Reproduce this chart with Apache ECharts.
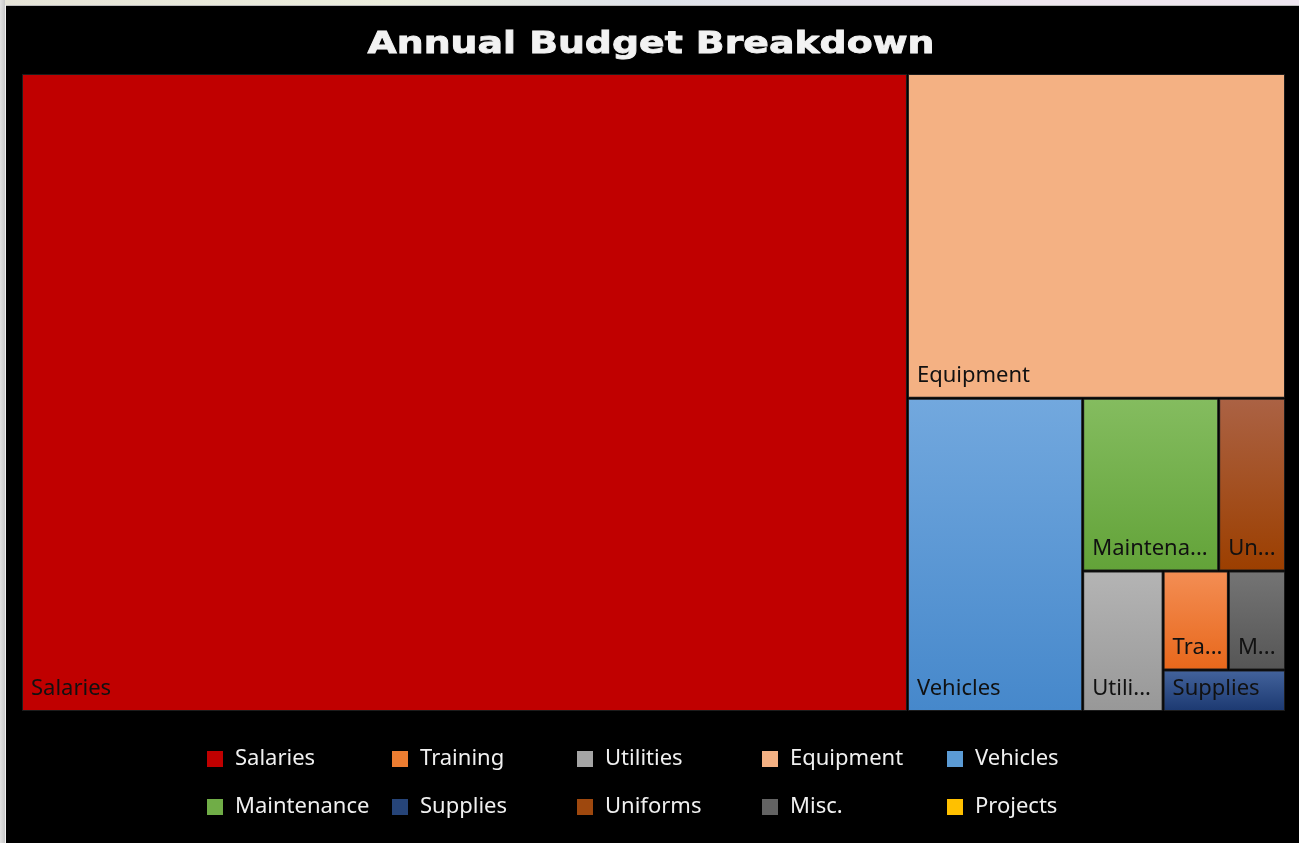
<!DOCTYPE html>
<html>
<head>
<meta charset="utf-8">
<title>Annual Budget Breakdown</title>
<script src="https://cdn.jsdelivr.net/npm/echarts@6/dist/echarts.min.js"></script>
<style>
  html, body { margin: 0; padding: 0; background: #000; }
  #chart { width: 1299px; height: 843px; }
</style>
</head>
<body>
<div id="chart"></div>
<script>
// Budget categories and allocations (thousands of dollars)
const categories = ['Salaries', 'Training', 'Utilities', 'Equipment', 'Vehicles',
                    'Maintenance', 'Supplies', 'Uniforms', 'Misc.', 'Projects'];
const budget = [7000, 80, 140, 1520, 680, 291, 63, 143, 70, 0];

// Fill colours: base (legend), and top/bottom stops of the tile gradient
const baseColors   = ['#C00000', '#ED7D31', '#A5A5A5', '#F4B183', '#5B9BD5',
                      '#70AD47', '#264478', '#9E480E', '#636363', '#FFC000'];
const topColors    = ['#C00000', '#F38D53', '#B4B4B4', '#F4B183', '#72A8DE',
                      '#84BC5F', '#42629B', '#AB6244', '#747474', '#FFC000'];
const bottomColors = ['#C00000', '#E8681C', '#989898', '#F4B183', '#4688CB',
                      '#63A339', '#1D3A72', '#9C3F00', '#565656', '#FFC000'];

// Order in which the area is sliced: each nested pair is one split.
// Projects has no allocation, so it only appears in the legend.
const sliceOrder = [0, [3, [4, [[5, 7], [2, [[1, 8], 6]]]]]];

const titleText = 'Annual Budget Breakdown';
const titleFont = 'bold 30px "DejaVu Sans"';

function gradient(i) {
  return {
    type: 'linear', x: 0, y: 0, x2: 0, y2: 1,
    colorStops: [
      { offset: 0, color: topColors[i] },
      { offset: 1, color: bottomColors[i] }
    ]
  };
}

function buildNode(entry) {
  if (Array.isArray(entry)) {
    return {
      name: '',
      children: entry.map(buildNode),
      itemStyle: { color: '#000', borderWidth: 0, gapWidth: 1, borderColor: '#000' },
      label: { show: false },
      upperLabel: { show: false }
    };
  }
  return {
    name: categories[entry],
    value: budget[entry],
    itemStyle: { color: gradient(entry), borderWidth: 1, borderColor: '#1c1c1c' }
  };
}

const treeData = sliceOrder.map(buildNode);

// Legend laid out in five columns of two rows
const legendColumns = [0, 1, 2, 3, 4].map(c => [categories[c], categories[c + 5]]);

// Widen the heavy title to its banner width
const measureCtx = document.createElement('canvas').getContext('2d');
measureCtx.font = titleFont;
const titleScale = 567 / measureCtx.measureText(titleText).width;

const chart = echarts.init(document.getElementById('chart'), null, { renderer: 'canvas' });

chart.setOption({
  backgroundColor: '#000',
  animation: false,
  graphic: [
    { type: 'rect', shape: { x: 0, y: 0, width: 1299, height: 5 },
      style: { fill: { type: 'linear', x: 0, y: 0, x2: 1, y2: 0,
        colorStops: [{ offset: 0, color: '#e6e4d8' }, { offset: 0.3, color: '#eceedd' },
                     { offset: 0.5, color: '#dfe3ea' }, { offset: 0.8, color: '#efe6ee' },
                     { offset: 1, color: '#eee6f0' }] } } },
    { type: 'rect', shape: { x: 0, y: 5, width: 1299, height: 1 }, style: { fill: '#bdbdbd' } },
    { type: 'rect', shape: { x: 0, y: 0, width: 5, height: 843 },
      style: { fill: { type: 'linear', x: 0, y: 0, x2: 1, y2: 0,
        colorStops: [{ offset: 0, color: '#e2e2e2' }, { offset: 1, color: '#c8c8c8' }] } } },
    { type: 'rect', shape: { x: 5, y: 5, width: 1, height: 838 }, style: { fill: '#f2f2f2' } },
    {
      type: 'text', x: 651, y: 45, scaleX: titleScale,
      style: {
        text: titleText, x: 0, y: 0, fill: '#f2f2f2', font: titleFont,
        stroke: '#f2f2f2', lineWidth: 0.8,
        align: 'center', verticalAlign: 'middle'
      }
    }
  ],
  legend: legendColumns.map((names, c) => ({
    orient: 'vertical',
    left: 207 + c * 185,
    top: 746,
    padding: 0,
    itemWidth: 16,
    itemHeight: 16,
    itemGap: 22,
    icon: 'rect',
    selectedMode: false,
    data: names,
    textStyle: {
      color: '#f0f0f0', fontSize: 22, fontFamily: 'Noto Sans',
      lineHeight: 24, padding: [2, 0, 0, 7]
    }
  })),
  series: [
    {
      type: 'treemap',
      left: 22, top: 74, right: 14, bottom: 132,
      sort: false,
      squareRatio: 1,
      roam: false,
      nodeClick: false,
      silent: true,
      breadcrumb: { show: false },
      itemStyle: { borderWidth: 0, gapWidth: 1, borderColor: '#000' },
      label: {
        show: true, position: 'insideBottomLeft', distance: 3, offset: [0, -2],
        color: '#111', fontSize: 22, fontFamily: 'Noto Sans',
        overflow: 'truncate', ellipsis: '...'
      },
      upperLabel: { show: false },
      emphasis: { disabled: true },
      data: treeData
    },
    {
      // Carries the category colours for the legend; it draws nothing itself
      type: 'pie',
      radius: [0, 0],
      center: [-50, -50],
      silent: true,
      label: { show: false },
      labelLine: { show: false },
      data: categories.map((n, i) => ({ name: n, value: 1, itemStyle: { color: baseColors[i] } }))
    }
  ]
});
</script>
</body>
</html>
